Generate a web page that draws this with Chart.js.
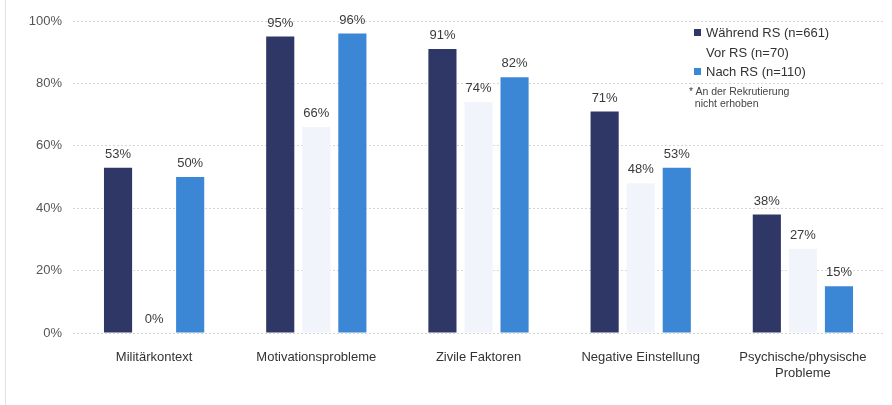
<!DOCTYPE html>
<html lang="de">
<head>
<meta charset="utf-8">
<script src="https://cdn.jsdelivr.net/npm/chart.js@4/dist/chart.umd.min.js"></script>
<style>
  body { margin: 0; background: #fff; font-family: "Liberation Sans", Arial, sans-serif; }
  #wrap { position: relative; width: 892px; height: 405px; }
  #rand { position: absolute; left: 5px; top: 0; bottom: 0; border-left: 1px solid #e2e2e2; }
  #legende { position: absolute; left: 694px; top: 23px; font-size: 13px; color: #333; line-height: 19.5px; }
  #legende .eintrag { display: flex; align-items: center; }
  #legende .box { width: 7px; height: 7px; margin-right: 5px; }
  #legende .fuss { font-size: 10.5px; line-height: 12.5px; margin-top: 3px; margin-left: -5px; color: #444; }
</style>
</head>
<body>
<div id="wrap">
  <canvas id="chart" width="892" height="405"></canvas>
  <div id="rand"></div>
  <div id="legende">
    <div class="eintrag"><span class="box" style="background:#2f3766"></span>Während RS (n=661)</div>
    <div class="eintrag"><span class="box" style="background:#fff"></span>Vor RS (n=70)</div>
    <div class="eintrag"><span class="box" style="background:#3c86d6"></span>Nach RS (n=110)</div>
    <div class="fuss">* An der Rekrutierung<br>&nbsp;&nbsp;nicht erhoben</div>
  </div>
</div>
<script>
/* Kategorien und Werte (in %) */
const kategorien = ['Militärkontext', 'Motivationsprobleme', 'Zivile Faktoren', 'Negative Einstellung', ['Psychische/physische', 'Probleme']];
const waehrendRS = [53, 95, 91, 71, 38];
const vorRS = [0, 66, 74, 48, 27];
const nachRS = [50, 96, 82, 53, 15];
const yTicks = [0, 20, 40, 60, 80, 100];

/* Prozentwerte über die Balken schreiben */
const wertePlugin = {
  id: 'werte',
  afterDatasetsDraw(chart) {
    const ctx = chart.ctx;
    ctx.save();
    ctx.font = '13px "Liberation Sans", Arial, sans-serif';
    ctx.fillStyle = '#3a3a3a';
    ctx.textAlign = 'center';
    ctx.textBaseline = 'bottom';
    chart.data.datasets.forEach((ds, i) => {
      chart.getDatasetMeta(i).data.forEach((bar, j) => {
        ctx.fillText(ds.data[j] + '%', bar.x, bar.y - 7);
      });
    });
    ctx.restore();
  }
};

new Chart(document.getElementById('chart'), {
  type: 'bar',
  data: {
    labels: kategorien,
    datasets: [
      { label: 'Während RS (n=661)', data: waehrendRS, backgroundColor: '#2f3766' },
      { label: 'Vor RS (n=70)', data: vorRS, backgroundColor: '#f1f5fb' },
      { label: 'Nach RS (n=110)', data: nachRS, backgroundColor: '#3c86d6' },
    ],
  },
  options: {
    responsive: false,
    animation: false,
    devicePixelRatio: 1,
    layout: { padding: { top: 21, right: 8, left: 0, bottom: 0 } },
    datasets: { bar: { categoryPercentage: 0.667, barPercentage: 0.78 } },
    plugins: {
      legend: { display: false },
      tooltip: { enabled: false },
    },
    scales: {
      x: {
        grid: { display: false },
        border: { display: false },
        ticks: { color: '#333', font: { size: 13, family: '"Liberation Sans", Arial, sans-serif' }, padding: 9, maxRotation: 0, autoSkip: false },
        afterFit(scale) { scale.height = 72; },
      },
      y: {
        min: 0,
        max: 100,
        afterBuildTicks(scale) { scale.ticks = yTicks.map(v => ({ value: v })); },
        grid: { color: '#d6d6d6', drawTicks: false, lineWidth: 1 },
        border: { display: false, dash: [2, 2] },
        ticks: {
          color: '#555',
          padding: 11,
          font: { size: 13, family: '"Liberation Sans", Arial, sans-serif' },
          callback: v => v + '%',
        },
        afterFit(scale) { scale.width = 73; },
      },
    },
  },
  plugins: [wertePlugin],
});
</script>
</body>
</html>
